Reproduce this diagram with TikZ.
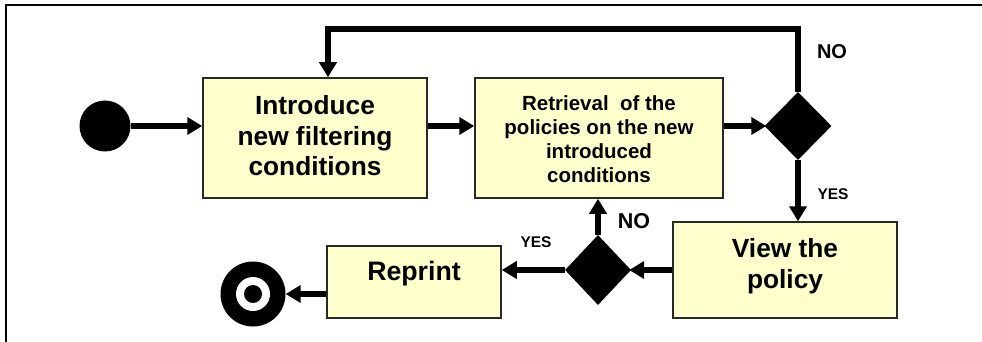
\documentclass[tikz,border=0pt]{standalone}
\usepackage{fontspec}
\setmainfont{Liberation Sans}
\usetikzlibrary{arrows.meta,shapes.geometric}
\definecolor{boxfill}{RGB}{255,255,204}
\definecolor{boxline}{RGB}{40,40,40}
\tikzset{
  actbox/.style={draw=boxline,line width=1.5pt,fill=boxfill,inner sep=0pt},
  decis/.style={diamond,fill=black,inner sep=0pt,aspect=1},
  flow/.style={line width=5.5pt,-{Triangle[length=15pt,width=17pt]}},
  lbl/.style={font=\bfseries,align=center,inner sep=0pt},
}
\begin{document}
\begin{tikzpicture}[x=1pt,y=-1pt]
\useasboundingbox (0,0) rectangle (982,342);
% frame
\draw[line width=2pt,line cap=rect] (6,342) -- (6,5) -- (982,5);
% nodes
\node[circle,fill=black,minimum size=51pt,inner sep=0pt] (start) at (105,126) {};
\node[actbox,minimum width=224pt,minimum height=120pt] (box1) at (315,138) {};
\node[lbl,font=\bfseries\fontsize{26.3}{30.5}\selectfont] (t1) at (315,136) {Introduce\\new filtering\\conditions};
\node[actbox,minimum width=248pt,minimum height=120pt] (box2) at (599,138) {};
\node[lbl,font=\bfseries\fontsize{20.5}{24}\selectfont] (t2) at (599,139) {Retrieval\ \ of the\\policies on the new\\introduced\\conditions};
\node[decis,minimum width=67pt,minimum height=68pt] (d1) at (798,126) {};
\node[actbox,minimum width=224pt,minimum height=96pt] (view) at (785,270) {};
\node[lbl,font=\bfseries\fontsize{26.3}{31}\selectfont] (t3) at (785,266) {View the\\policy};
\node[decis,minimum width=66pt,minimum height=70pt] (d2) at (598,270) {};
\node[actbox,minimum width=174pt,minimum height=72pt] (reprint) at (414,282) {};
\node[lbl,font=\bfseries\fontsize{26.7}{30}\selectfont] (t4) at (414,274) {Reprint};
\node[circle,fill=black,minimum size=65pt,inner sep=0pt] (end) at (253,294) {};
\node[circle,fill=white,minimum size=34pt,inner sep=0pt] (endring) at (253,294) {};
\node[circle,fill=black,minimum size=18pt,inner sep=0pt] (enddot) at (253,294) {};
% labels
\node[lbl,font=\bfseries\fontsize{20}{22}\selectfont] (no1) at (832,52) {NO};
\node[lbl,font=\bfseries\fontsize{15.5}{18}\selectfont] (yes1) at (833,194) {YES};
\node[lbl,font=\bfseries\fontsize{21.5}{24}\selectfont] (no2) at (634,221) {NO};
\node[lbl,font=\bfseries\fontsize{15.5}{18}\selectfont] (yes2) at (536,242) {YES};
% connectors
\coordinate (loopR) at (798,29);
\coordinate (loopL) at (328,29);
\draw[flow] (start) -- (start -| box1.west);
\draw[flow] (box1.east |- start) -- (box2.west |- start);
\draw[flow] (box2.east |- d1) -- ([xshift=2pt]d1.west);
\draw[flow,line join=miter] (d1.north) -- (loopR) -- (loopL) -- (loopL |- box1.north);
\draw[flow] (d1.south) -- (d1.south |- view.north);
\draw[flow] (view.west |- d2) -- ([xshift=-2pt]d2.east);
\draw[flow] (d2.north) -- (d2.north |- box2.south);
\draw[flow] (d2.west) -- (d2.west -| reprint.east);
\draw[flow] (reprint.west |- end) -- (end.east);
\end{tikzpicture}
\end{document}
